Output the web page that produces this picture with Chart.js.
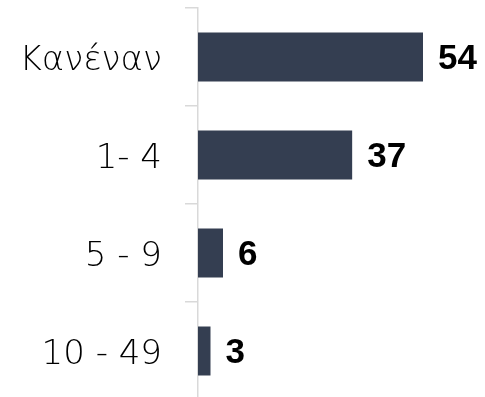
<!DOCTYPE html>
<html>
<head>
<meta charset="utf-8">
<script src="https://cdn.jsdelivr.net/npm/chart.js@4"></script>
<style>
  html, body { margin: 0; padding: 0; background: #fff; overflow: hidden; }
</style>
</head>
<body>
<canvas id="chart" width="485" height="400"></canvas>
<script>
// employee-size groups and share of firms
const categories = ['Κανέναν', '1- 4', '5 - 9', '10 - 49'];
const values = [54, 37, 6, 3];

const BAR_COLOR = '#343e51';
const AXIS_COLOR = '#d9d9d9';

// write each value just past the end of its bar
const valueLabels = {
  id: 'valueLabels',
  afterDatasetsDraw(chart) {
    const ctx = chart.ctx;
    const meta = chart.getDatasetMeta(0);
    ctx.save();
    ctx.font = 'bold 35px "Liberation Sans"';
    ctx.fillStyle = '#000';
    ctx.textAlign = 'left';
    ctx.textBaseline = 'middle';
    meta.data.forEach((bar, i) => {
      ctx.fillText(String(values[i]), bar.x + 15, bar.y + 2);
    });
    ctx.restore();
  }
};

new Chart(document.getElementById('chart').getContext('2d'), {
  type: 'bar',
  data: {
    labels: categories,
    datasets: [{
      data: values,
      backgroundColor: BAR_COLOR,
      borderWidth: 0,
      categoryPercentage: 1,
      barPercentage: 0.5
    }]
  },
  options: {
    indexAxis: 'y',
    animation: false,
    responsive: false,
    devicePixelRatio: 1,
    layout: { padding: { top: 8, right: 37, bottom: 0, left: 0 } },
    plugins: {
      legend: { display: false },
      tooltip: { enabled: false }
    },
    scales: {
      x: {
        display: false,
        min: 0,
        max: 60
      },
      y: {
        afterFit(scale) {
          scale.width = 198;
          scale.paddingTop = 0;
          scale.paddingBottom = 0;
        },
        grid: {
          drawOnChartArea: false,
          tickLength: 13,
          color: AXIS_COLOR,
          lineWidth: 1.5
        },
        border: { color: AXIS_COLOR, width: 1.5 },
        ticks: {
          padding: 23,
          labelOffset: 4,
          color: '#000',
          font: { family: '"DejaVu Sans"', size: 34, weight: 200 }
        }
      }
    }
  },
  plugins: [valueLabels]
});
</script>
</body>
</html>
